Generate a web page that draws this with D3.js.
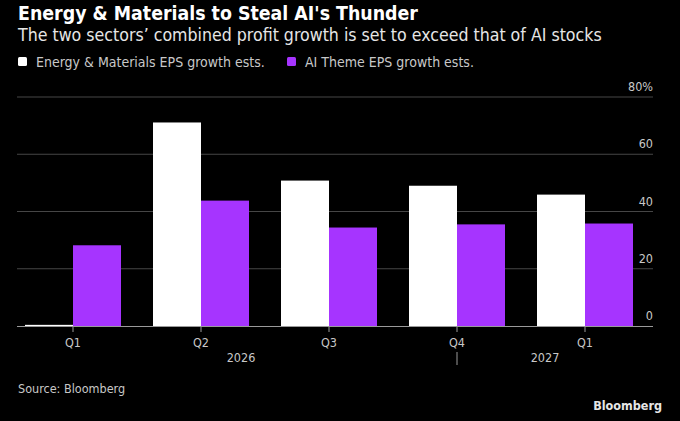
<!DOCTYPE html>
<html lang="en">
<head>
  <meta charset="UTF-8">
  <title>Energy & Materials to Steal AI's Thunder</title>
  <script src="https://cdnjs.cloudflare.com/ajax/libs/d3/7.8.5/d3.min.js"></script>
  <style>
      body {
          margin: 0;
          background: #000;
      }
      svg text {
          font-family: "DejaVu Sans Condensed", "DejaVu Sans", sans-serif;
      }
  </style>
</head>
<body>
<div id="chart"></div>
<script>
  // Data
  const quarters = ["Q1", "Q2", "Q3", "Q4", "Q1"];
  const quarterYears = ["2026", "2026", "2026", "2026", "2027"];
  const energyEps = [0.4, 71.1, 50.8, 49.0, 45.9];
  const aiEps = [28.2, 43.8, 34.4, 35.5, 35.8];
  const yTicks = [0, 20, 40, 60, 80];
  const seriesNames = ["Energy & Materials EPS growth ests.", "AI Theme EPS growth ests."];

  const width = 680;
  const height = 421;
  const white = "#ffffff";
  const purple = "#a634ff";
  const gridColor = "#464646";
  const textGrey = "#c8c8c8";

  const svg = d3.select("#chart")
      .append("svg")
      .attr("width", width)
      .attr("height", height)
      .style("background", "#000");

  // Header (font sizes nudged so the lines span the same width as the original)
  const fitText = (sel, target) => {
    const w = sel.node().getComputedTextLength();
    const fs = parseFloat(sel.style("font-size"));
    sel.style("font-size", (fs * target / w).toFixed(2) + "px");
  };

  const title = svg.append("text")
      .attr("x", 18).attr("y", 20)
      .attr("fill", "#fff")
      .style("font-size", "18px")
      .style("font-weight", "bold")
      .text("Energy & Materials to Steal AI's Thunder");
  fitText(title, 400);

  const subtitle = svg.append("text")
      .attr("x", 18).attr("y", 41)
      .attr("fill", "#e6e6e6")
      .style("font-size", "16px")
      .text("The two sectors\u2019 combined profit growth is set to exceed that of AI stocks");
  fitText(subtitle, 584);

  // Legend
  const legend = svg.append("g").attr("transform", "translate(18,62)");
  const legendX = [0, 269];
  seriesNames.forEach((name, i) => {
    const g = legend.append("g").attr("transform", `translate(${legendX[i]},0)`);
    g.append("rect")
        .attr("x", 0).attr("y", -5)
        .attr("width", 9).attr("height", 9)
        .attr("rx", 1.5)
        .attr("fill", i === 0 ? white : purple);
    const t = g.append("text")
        .attr("x", 18).attr("y", 4.5)
        .attr("fill", textGrey)
        .style("font-size", "13px")
        .text(name);
    if (i === 0) fitText(t, 229);
    else t.style("font-size", legend.select("text").style("font-size"));
  });

  // Scales
  const keys = d3.range(quarters.length);
  const x = d3.scaleBand()
      .domain(keys)
      .range([9, 649])
      .paddingInner(0.25)
      .paddingOuter(0.125);
  const xSub = d3.scaleBand()
      .domain([0, 1])
      .range([0, x.bandwidth()]);
  const y = d3.scaleLinear()
      .domain([0, 80])
      .range([326, 97]);

  const gridLeft = 17;
  const gridRight = 653;

  // Gridlines and right-side labels
  const grid = svg.append("g");
  grid.selectAll("line")
      .data(yTicks.filter(d => d !== 0))
      .join("line")
      .attr("x1", gridLeft).attr("x2", gridRight)
      .attr("y1", d => y(d)).attr("y2", d => y(d))
      .attr("stroke", gridColor)
      .attr("stroke-width", 1);

  grid.selectAll("text")
      .data(yTicks)
      .join("text")
      .attr("x", gridRight)
      .attr("y", d => y(d) - 6)
      .attr("text-anchor", "end")
      .attr("fill", textGrey)
      .style("font-size", "12.5px")
      .text(d => d === 80 ? "80%" : d);

  // Bars
  const groups = svg.append("g")
      .selectAll("g")
      .data(keys)
      .join("g")
      .attr("transform", i => `translate(${x(i)},0)`);

  groups.append("rect")
      .attr("x", xSub(0))
      .attr("width", xSub.bandwidth())
      .attr("y", i => y(energyEps[i]))
      .attr("height", i => y(0) - y(energyEps[i]))
      .attr("fill", white);

  groups.append("rect")
      .attr("x", xSub(1))
      .attr("width", xSub.bandwidth())
      .attr("y", i => y(aiEps[i]))
      .attr("height", i => y(0) - y(aiEps[i]))
      .attr("fill", purple);

  // Baseline
  svg.append("line")
      .attr("x1", gridLeft).attr("x2", gridRight)
      .attr("y1", y(0) + 0.5).attr("y2", y(0) + 0.5)
      .attr("stroke", "#9a9a9a")
      .attr("stroke-width", 1.2);

  // Quarter axis
  const axis = svg.append("g");
  const center = i => x(i) + x.bandwidth() / 2;
  axis.selectAll("line")
      .data(keys)
      .join("line")
      .attr("x1", center).attr("x2", center)
      .attr("y1", y(0)).attr("y2", y(0) + 6)
      .attr("stroke", "#9a9a9a");
  axis.selectAll("text")
      .data(keys)
      .join("text")
      .attr("x", center)
      .attr("y", 347)
      .attr("text-anchor", "middle")
      .attr("fill", textGrey)
      .style("font-size", "12.5px")
      .text(i => quarters[i]);

  // Year labels, centered over each year's span
  const years = Array.from(new Set(quarterYears));
  years.forEach((yr, j) => {
    const idx = keys.filter(i => quarterYears[i] === yr);
    const lo = j === 0 ? x(idx[0]) : center(idx[0] - 1);
    const hi = j === years.length - 1 ? x(idx[idx.length - 1]) + x.bandwidth() : center(idx[idx.length - 1]);
    svg.append("text")
        .attr("x", (lo + hi) / 2)
        .attr("y", 362)
        .attr("text-anchor", "middle")
        .attr("fill", textGrey)
        .style("font-size", "12.5px")
        .text(yr);
    if (j > 0) {
      svg.append("line")
          .attr("x1", lo).attr("x2", lo)
          .attr("y1", 352).attr("y2", 365)
          .attr("stroke", "#9a9a9a");
    }
  });

  // Footer
  svg.append("text")
      .attr("x", 18).attr("y", 393)
      .attr("fill", textGrey)
      .style("font-size", "12.5px")
      .text("Source: Bloomberg");

  svg.append("text")
      .attr("x", 662).attr("y", 410)
      .attr("text-anchor", "end")
      .attr("fill", "#e6e6e6")
      .style("font-size", "12.5px")
      .style("font-weight", "bold")
      .text("Bloomberg");
</script>
</body>
</html>
